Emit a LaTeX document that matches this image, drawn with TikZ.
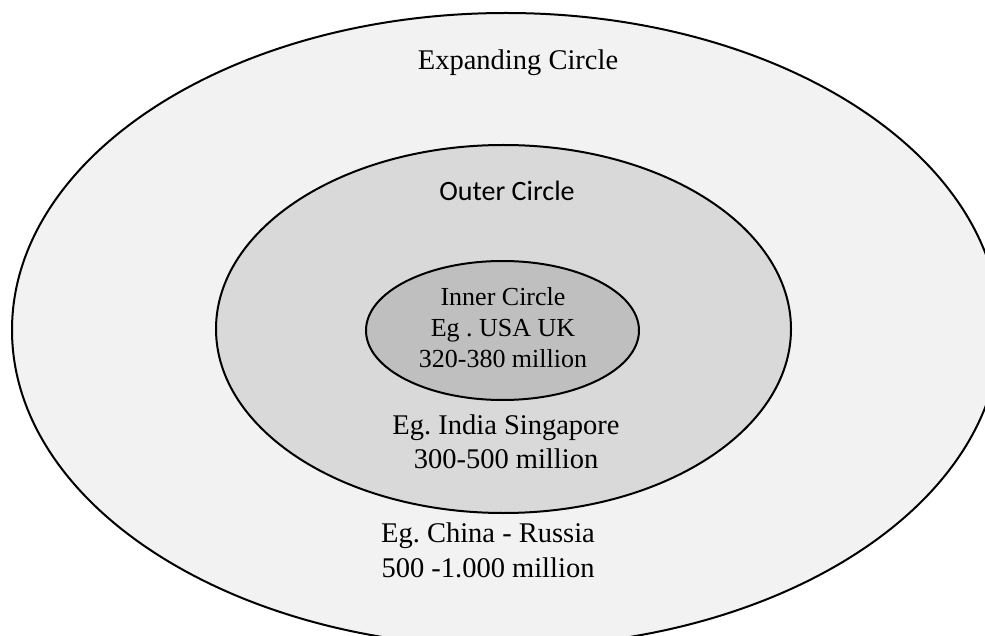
\documentclass[tikz,border=0pt]{standalone}
\usepackage{fontspec}
\setmainfont{Liberation Serif}
\newfontfamily\calibri{Carlito}
\usetikzlibrary{positioning,shapes.geometric}
\frenchspacing

\definecolor{ringlight}{HTML}{F2F2F2}
\definecolor{ringmid}{HTML}{D9D9D9}
\definecolor{ringdark}{HTML}{BFBFBF}

\begin{document}
\begin{tikzpicture}[x=1pt, y=-1pt,
  ring/.style={ellipse, draw=black, line width=2pt, inner sep=0pt},
  label/.style={align=center, anchor=base, inner sep=0pt,
                font=\fontsize{28.5}{34.5}\selectfont},
  smalllabel/.style={align=center, anchor=base, inner sep=0pt,
                     font=\fontsize{26}{31}\selectfont}
]
  \useasboundingbox (0,0) rectangle (985,636);
  \fill[white] (0,0) rectangle (985,636);

  % the three circles
  \node[ring, fill=ringlight, minimum width=988pt, minimum height=634pt] (expanding) at (506,330) {};
  \node[ring, fill=ringmid, minimum width=575pt, minimum height=368pt] (outer) at (503.5,329) {};
  \node[ring, fill=ringdark, minimum width=273pt, minimum height=139pt] (inner) at (502.5,330.5) {};

  % texts (base = baseline of the last line)
  \node[label] (expandingname) at (518,70) {Expanding Circle};
  \node[label, font=\calibri\fontsize{28}{34}\selectfont] (outername) at (507,200.5) {Outer Circle};
  \node[smalllabel] (innername) at (503,367.5) {Inner Circle\\Eg . USA UK\\320-380 million};
  \node[label] (outerex) at (506,468.5) {Eg. India Singapore\\300-500 million};
  \node[label] (expandingex) at (488,577) {Eg. China - Russia\\500 -1.000 million};
\end{tikzpicture}
\end{document}
